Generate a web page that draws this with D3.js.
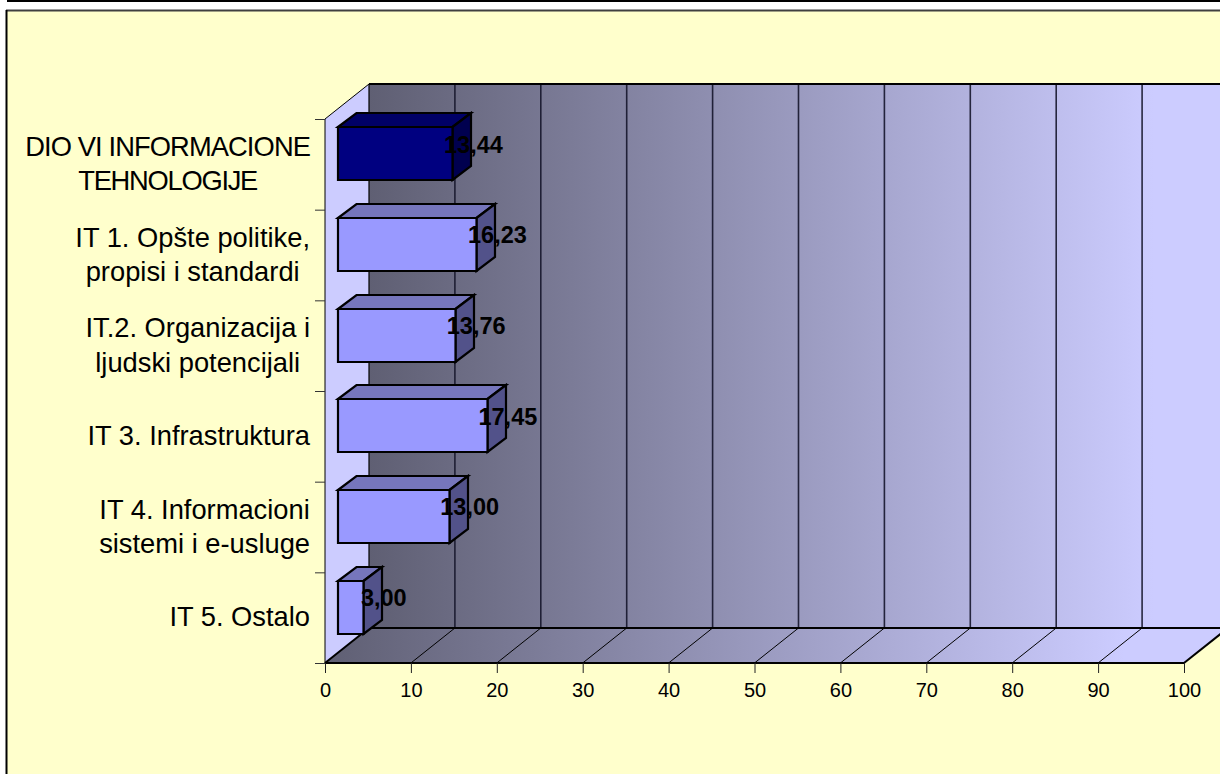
<!DOCTYPE html>
<html><head><meta charset="utf-8">
<script src="https://cdnjs.cloudflare.com/ajax/libs/d3/7.8.5/d3.min.js"></script>
<style>
html,body{margin:0;padding:0;background:#fff;overflow:hidden}
svg{display:block}
text{font-family:"Liberation Sans",Arial,sans-serif;fill:#000}
</style></head><body>
<svg id="c" width="1220" height="774"></svg>
<script>
const categories = [
  ["DIO VI INFORMACIONE","TEHNOLOGIJE"],
  ["IT 1. Opšte politike,","propisi i standardi"],
  ["IT.2. Organizacija i","ljudski potencijali"],
  ["IT 3. Infrastruktura"],
  ["IT 4. Informacioni","sistemi i e-usluge"],
  ["IT 5. Ostalo"]
];
const values = [13.44,16.23,13.76,17.45,13.00,3.00];
const xTicks = [0,10,20,30,40,50,60,70,80,90,100];
const highlighted = [0];

const W=1220,H=774;
const svg=d3.select("#c");
const defs=svg.append("defs");
const depthX=44, depthY=35;
const x=d3.scaleLinear().domain([0,100]).range([325,1184]);
const yTop=119,yBot=663;
const pad=0.4155;
const y=d3.scaleBand().domain(d3.range(categories.length)).range([yTop,yBot]).paddingInner(pad).paddingOuter(pad/2);
const yTickScale=d3.scaleLinear().domain([0,categories.length]).range([yTop,yBot]);

svg.append("rect").attr("width",W).attr("height",H).attr("fill","#fff");
svg.append("rect").attr("x",7).attr("y",0).attr("width",W-7).attr("height",2).attr("fill","#000");
svg.append("rect").attr("x",7).attr("y",11).attr("width",W).attr("height",H).attr("fill","#FFFFCC");
svg.append("line").attr("x1",6).attr("x2",W).attr("y1",10.5).attr("y2",10.5).attr("stroke","#404040").attr("stroke-width",2);
svg.append("line").attr("x1",6.5).attr("x2",6.5).attr("y1",10).attr("y2",H).attr("stroke","#000").attr("stroke-width",2);

function grad(id,x1,x2){
  const g=defs.append("linearGradient").attr("id",id).attr("gradientUnits","userSpaceOnUse")
    .attr("x1",x1).attr("x2",x2).attr("y1",0).attr("y2",0);
  g.append("stop").attr("offset",0).attr("stop-color","#5F5F73");
  g.append("stop").attr("offset",1).attr("stop-color","#CCCCFF");
}
grad("gWall",x(0)+depthX,x(100)-30);
grad("gFloor",x(0),x(100)-60);

const line=d3.line();
const x0=x(0),x1=x(100);
svg.append("path").attr("d",line([[x0+depthX,yTop-depthY],[x1+depthX,yTop-depthY],[x1+depthX,yBot-depthY],[x0+depthX,yBot-depthY]])+"Z").attr("fill","url(#gWall)");
svg.append("path").attr("d",line([[x0,yTop],[x0+depthX,yTop-depthY],[x0+depthX,yBot-depthY],[x0,yBot]])+"Z").attr("fill","#CCCCFF");
svg.append("path").attr("d",line([[x0,yBot],[x0+depthX,yBot-depthY],[x1+depthX,yBot-depthY],[x1,yBot]])+"Z").attr("fill","url(#gFloor)");
xTicks.slice(1,-1).forEach(t=>{
  svg.append("line").attr("x1",x(t)+depthX).attr("x2",x(t)+depthX).attr("y1",yTop-depthY).attr("y2",yBot-depthY).attr("stroke","#15152b").attr("stroke-width",1.6).attr("stroke-opacity",.9);
  svg.append("line").attr("x1",x(t)).attr("x2",x(t)+depthX).attr("y1",yBot).attr("y2",yBot-depthY).attr("stroke","#000").attr("stroke-width",1);
});
const st=(pts,w)=>svg.append("path").attr("d",line(pts)).attr("fill","none").attr("stroke","#000").attr("stroke-width",w);
st([[x0+depthX,yTop-depthY],[x1+depthX,yTop-depthY]],2);
st([[x0+depthX,yBot-depthY],[x1+depthX,yBot-depthY]],2);
st([[x0,yTop],[x0+depthX,yTop-depthY]],1);
st([[x0+depthX,yTop-depthY],[x0+depthX,yBot-depthY]],1.2);
st([[x0,yBot],[x0+depthX,yBot-depthY]],2);
st([[x1,yBot],[x1+depthX,yBot-depthY]],2);
st([[x0,yTop],[x0,yBot]],1);
st([[x0,yBot],[x1,yBot]],2);

const ax=svg.append("g").attr("transform",`translate(0,${yBot})`)
  .call(d3.axisBottom(x).tickValues(xTicks).tickSize(10).tickSizeOuter(0).tickPadding(11));
ax.select(".domain").remove();
ax.selectAll("line").attr("stroke","#222");
ax.selectAll("text").attr("font-size",20).attr("font-family",'"Liberation Sans",Arial,sans-serif').attr("dy",0).attr("y",34);

const ay=svg.append("g").attr("transform",`translate(${x0},0)`)
  .call(d3.axisLeft(yTickScale).ticks(categories.length).tickFormat("").tickSize(10).tickSizeOuter(0));
ay.select(".domain").remove();
ay.selectAll("line").attr("stroke","#333");

const bx=13, by=-10.5, bdx=18.5, bdy=14;
const colors={n:["#9999FF","#7676BC","#52528A"],h:["#000080","#000066","#00004F"]};
const bars=svg.append("g").selectAll("g").data(values).join("g");
bars.each(function(v,i){
  const g=d3.select(this), c=highlighted.includes(i)?colors.h:colors.n;
  const L=Math.round(x0+bx), R=Math.round(x(v)+bx)-.5, T=Math.round(y(i)+by), B=T+Math.round(y.bandwidth());
  const s=p=>g.append("path").attr("d",line(p)+"Z").attr("stroke","#000").attr("stroke-width",2.2).attr("stroke-linejoin","miter");
  s([[L,T],[L+bdx,T-bdy],[R+bdx,T-bdy],[R,T]]).attr("fill",c[1]);
  s([[R,T],[R+bdx,T-bdy],[R+bdx,B-bdy],[R,B]]).attr("fill",c[2]);
  s([[L,T],[R,T],[R,B],[L,B]]).attr("fill",c[0]);
});
const loc=d3.formatLocale({decimal:",",thousands:".",grouping:[3],currency:["",""]});
const fmt=loc.format(".2f");
svg.append("g").selectAll("text").data(values).join("text")
  .attr("x",v=>x(v)+bx+20).attr("y",(v,i)=>y(i)+by+25.3)
  .attr("text-anchor","middle").attr("font-size",23.5).attr("font-weight","bold").text(fmt);

const right=310;
const labels=svg.append("g");
categories.forEach((ls,i)=>{
  const cy=yTickScale(i+.5);
  const t=labels.append("text").attr("font-size",27.3).attr("text-anchor","middle");
  const spans=ls.map((s,j)=>{
    const sp=t.append("tspan").text(s).attr("y",ls.length==1?cy+8.5:cy-8.5+j*34.6);
    if(s===s.toUpperCase()) sp.attr("letter-spacing",j?-1.25:-0.9);
    return sp;
  });
  const w=d3.max(spans.map(sp=>sp.node().getComputedTextLength()));
  spans.forEach(sp=>sp.attr("x",right-w/2));
});
</script>
</body></html>
